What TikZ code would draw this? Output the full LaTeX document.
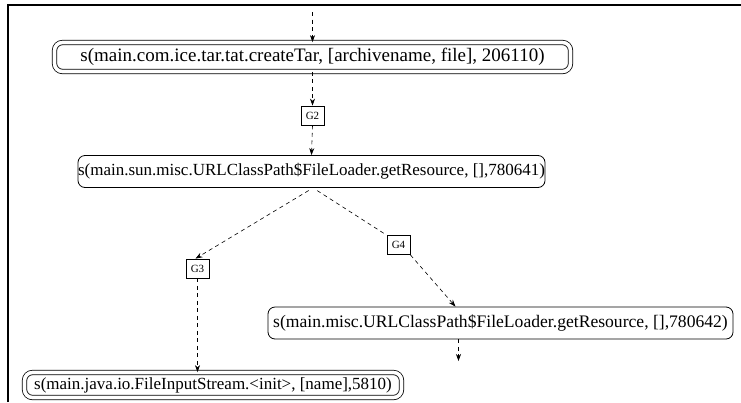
\documentclass[tikz,border=0pt]{standalone}
\usepackage{fontspec}
\setmainfont{Liberation Serif}
\usetikzlibrary{arrows.meta,calc}
\begin{document}
\begin{tikzpicture}[x=1pt,y=-1pt,
  every node/.style={font=\fontsize{17}{19}\selectfont, inner sep=0pt},
  call/.style={draw, line width=0.8pt, rounded corners=7pt},
  dcall/.style={draw, line width=0.8pt, rounded corners=8pt, double, double distance=3.6pt},
  gbox/.style={draw, line width=0.8pt, minimum width=23pt, minimum height=19pt, font=\fontsize{11}{12}\selectfont},
  edge/.style={line width=0.6pt, dash pattern=on 4pt off 3.5pt, -{Stealth[length=7pt,width=5pt]}},
  plain/.style={line width=0.6pt, dash pattern=on 4pt off 3.5pt},
  frame/.style={line width=2.2pt}]
\useasboundingbox (0,0) rectangle (741,402);
\draw[frame] (8,402) -- (8,5) -- (741,5);
\node[dcall, minimum width=516pt, minimum height=29pt, font=\fontsize{19}{21}\selectfont] (n1) at (312.5,57) {s(main.com.ice.tar.tat.createTar, [archivename, file], 206110)};
\node[gbox] (g2) at (312.5,115.5) {G2};
\node[call, minimum width=467pt, minimum height=32pt] (n2) at (311.5,171.5) {s(main.sun.misc.URLClassPath\$FileLoader.getResource, [],780641)};
\node[gbox] (g3) at (197.5,268.5) {G3};
\node[gbox] (g4) at (398.5,245) {G4};
\node[call, minimum width=465pt, minimum height=32pt, font=\fontsize{17.6}{19}\selectfont] (n3) at (500.5,323) {s(main.misc.URLClassPath\$FileLoader.getResource, [],780642)};
\node[dcall, minimum width=377pt, minimum height=25pt] (n4) at (213,385) {s(main.java.io.FileInputStream.<init>, [name],5810)};
\coordinate (top) at (312.5,12);
\coordinate (tail) at (458.5,361);
\draw[edge] (top) -- (n1.north);
\draw[edge] (n1.south) -- (g2.north);
\draw[edge] (g2.south) -- (n2.north);
\draw[edge, shorten <=5pt] ([xshift=1.5pt]n2.south) -- ([xshift=-2pt]g3.north);
\draw[plain, shorten <=5pt] ([xshift=1.5pt]n2.south) -- (g4.north west);
\draw[edge] (g4.south east) -- ([xshift=-45pt]n3.north);
\draw[edge] (g3.south) -- (g3.south |- n4.north);
\draw[edge] (n3.south -| tail) -- (tail);
\end{tikzpicture}
\end{document}
